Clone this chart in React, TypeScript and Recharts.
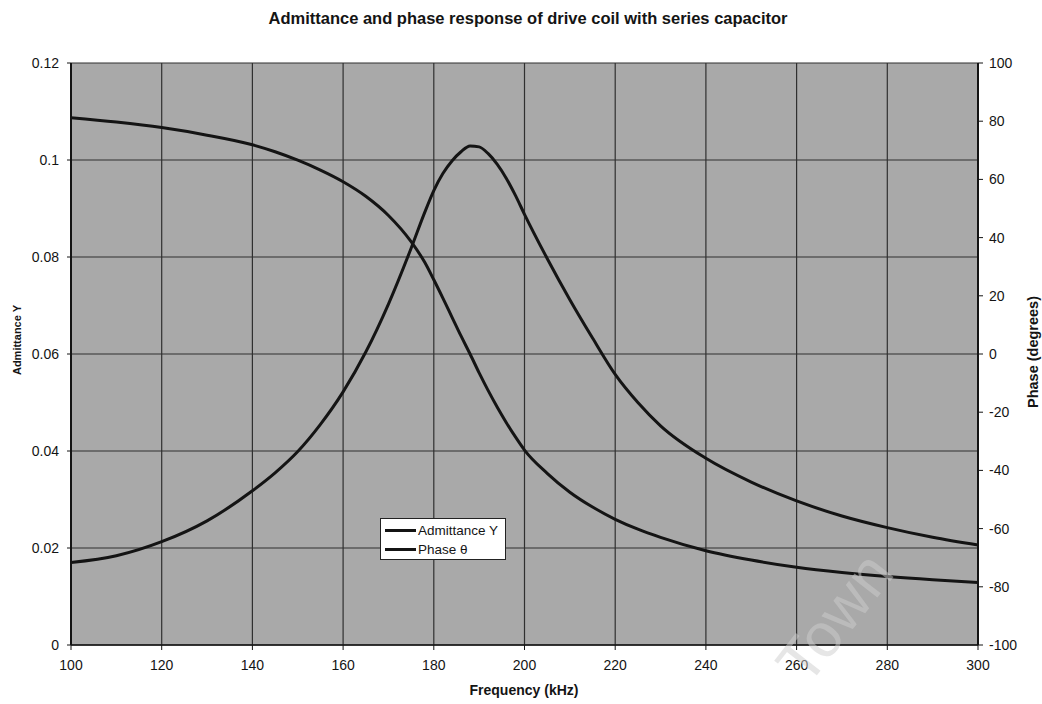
import { LineChart, Line, XAxis, YAxis, CartesianGrid } from "recharts"

// frequency points (kHz), denser around resonance
const freq = [100, 110, 120, 130, 140, 145, 150, 155, 160, 165, 170, 175, 178, 180, 182, 184, 186, 188, 190, 192, 194, 196, 198, 200, 205, 210, 215, 220, 225, 230, 240, 250, 260, 270, 280, 290, 300]
// admittance Y (left axis)
const admittance = [0.017, 0.0184, 0.0213, 0.0256, 0.0318, 0.0355, 0.0399, 0.0455, 0.0522, 0.0604, 0.0703, 0.0818, 0.0892, 0.0937, 0.0972, 0.0998, 0.1017, 0.1029, 0.1027, 0.1013, 0.0991, 0.0962, 0.0927, 0.0888, 0.0797, 0.0712, 0.0633, 0.0558, 0.05, 0.0452, 0.0385, 0.0336, 0.0297, 0.0266, 0.0242, 0.0222, 0.0206]
// phase in degrees (right axis)
const phase = [81.2, 79.7, 77.8, 75.2, 71.9, 69.5, 66.6, 63.2, 59.2, 54.2, 47.6, 38.6, 31.5, 25.5, 19.2, 12.7, 6.2, 0, -6.5, -12.6, -18.3, -23.6, -28.5, -33, -41, -47.5, -52.6, -56.8, -60.2, -63, -67.6, -70.8, -73.3, -75.1, -76.5, -77.6, -78.5]

const freqTicks = [100, 120, 140, 160, 180, 200, 220, 240, 260, 280, 300]
const admTicks = [0, 0.02, 0.04, 0.06, 0.08, 0.1, 0.12]
const phaseTicks = [-100, -80, -60, -40, -20, 0, 20, 40, 60, 80, 100]

const seriesNames = ["Admittance Y", "Phase θ"]

const FONT = "'Liberation Sans', Arial, sans-serif"
const INK = "#141414"

export default function App() {
  const data = freq.map((f, i) => ({ f, y: admittance[i], phase: phase[i] }))

  const tickStyle = { fill: INK, fontSize: 14, fontFamily: FONT }

  return (
    <div style={{ position: "absolute", left: 0, top: 0, width: 1042, height: 704, background: "#fff", fontFamily: FONT, overflow: "hidden" }}>
      {/* title */}
      <div style={{
        position: "absolute", left: 0, top: 8, width: 1056, textAlign: "center",
        fontSize: 16.5, fontWeight: 700, lineHeight: "20px", color: INK
      }}>
        Admittance and phase response of drive coil with series capacitor
      </div>

      <LineChart width={1042} height={704} data={data}
        margin={{ top: 63, right: 19, bottom: 29, left: 31 }}>
        <CartesianGrid yAxisId="left" stroke="#303030" strokeWidth={1.2}
          fill="#a9a9a9" fillOpacity={1} />
        <XAxis dataKey="f" type="number" domain={[100, 300]} ticks={freqTicks}
          height={30} tick={tickStyle} tickSize={5} tickMargin={10}
          axisLine={{ stroke: INK, strokeWidth: 1.5 }} tickLine={{ stroke: INK }} />
        <YAxis yAxisId="left" domain={[0, 0.12]} ticks={admTicks} width={40}
          tick={tickStyle} tickSize={4} tickMargin={8} tickFormatter={(v: number) => String(v)}
          axisLine={{ stroke: INK, strokeWidth: 2 }} tickLine={{ stroke: INK }} />
        <YAxis yAxisId="right" orientation="right" domain={[-100, 100]} ticks={phaseTicks} width={45}
          tick={tickStyle} tickSize={5} tickMargin={6}
          axisLine={{ stroke: INK, strokeWidth: 2 }} tickLine={{ stroke: INK }} />
        <Line yAxisId="left" dataKey="y" name={seriesNames[0]} type="monotone"
          stroke={INK} strokeWidth={3} dot={false} isAnimationActive={false} />
        <Line yAxisId="right" dataKey="phase" name={seriesNames[1]} type="monotone"
          stroke={INK} strokeWidth={3} dot={false} isAnimationActive={false} />
      </LineChart>

      {/* legend box */}
      <div style={{
        position: "absolute", left: 380, top: 518, width: 126, height: 42,
        background: "#fff", border: "1.5px solid #222", boxSizing: "border-box",
        padding: "2px 0 0 4px"
      }}>
        {seriesNames.map((n) => (
          <div key={n} style={{ display: "flex", alignItems: "center", height: 19 }}>
            <span style={{ display: "inline-block", width: 31, height: 3, background: INK }} />
            <span style={{ fontSize: 13.5, marginLeft: 2, color: INK }}>{n}</span>
          </div>
        ))}
      </div>

      {/* axis titles */}
      <div style={{
        position: "absolute", left: 424, top: 680, width: 200, textAlign: "center",
        fontSize: 14, fontWeight: 700, lineHeight: "20px", color: INK
      }}>Frequency (kHz)</div>
      <div style={{
        position: "absolute", left: 17 - 100, top: 340 - 10, width: 200, height: 20, textAlign: "center",
        fontSize: 11, fontWeight: 700, lineHeight: "20px", color: INK, transform: "rotate(-90deg)"
      }}>Admittance Y</div>
      <div style={{
        position: "absolute", left: 1033 - 100, top: 352 - 10, width: 200, height: 20, textAlign: "center",
        fontSize: 14.5, fontWeight: 700, lineHeight: "20px", color: INK, transform: "rotate(-90deg)"
      }}>Phase (degrees)</div>

      {/* faint scan watermark */}
      <div style={{
        position: "absolute", left: 835 - 110, top: 618 - 35, width: 220, height: 70, textAlign: "center",
        fontSize: 62, lineHeight: "70px", color: "rgba(205,205,205,0.5)",
        transform: "rotate(-52deg)", pointerEvents: "none"
      }}>Town</div>
    </div>
  )
}
